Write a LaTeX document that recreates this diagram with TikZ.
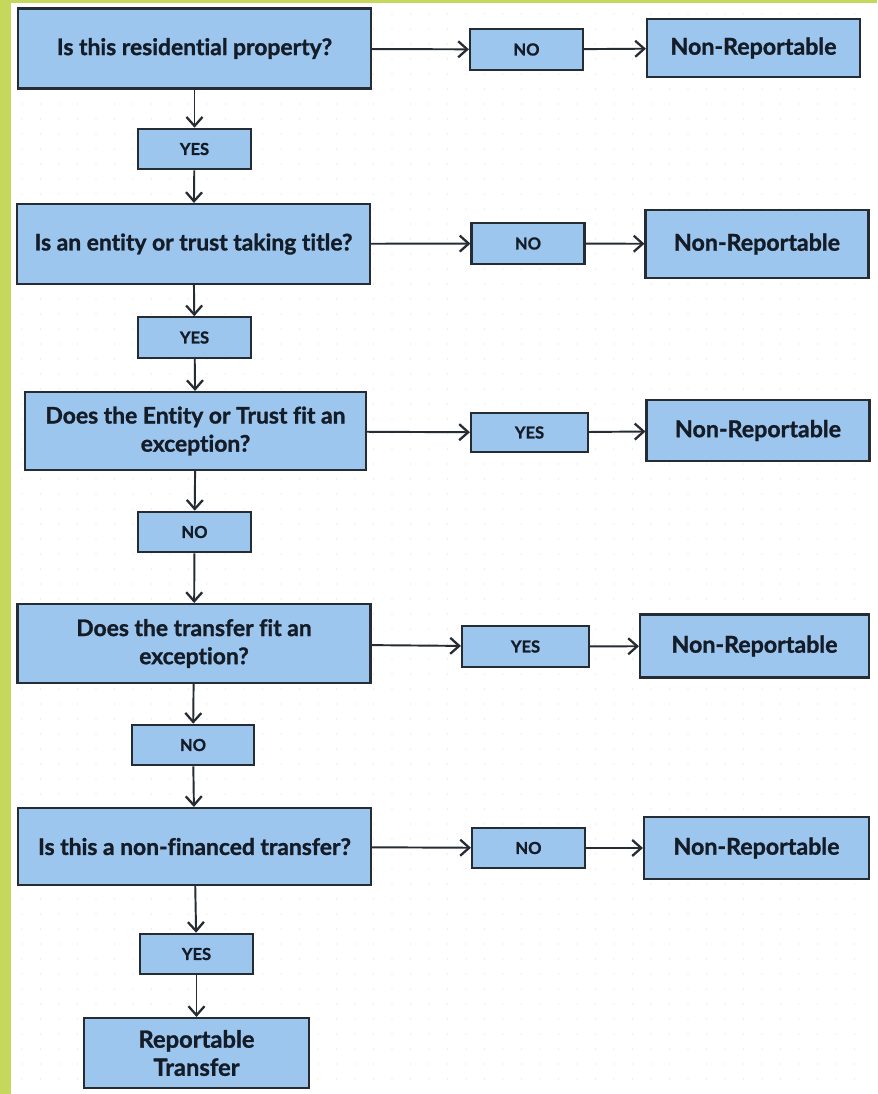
\documentclass[tikz,border=0pt]{standalone}
\usepackage{fontspec}
\setmainfont{Lato}[Ligatures=NoCommon,BoldFeatures={FakeBold=1.2}]
\usetikzlibrary{arrows.meta}
\definecolor{cbox}{RGB}{157,198,238}
\definecolor{cedge}{RGB}{38,44,52}
\definecolor{ctext}{RGB}{20,28,40}
\definecolor{cstrip}{RGB}{198,216,92}
\tikzset{
  flow/.style={x=0.2mm,y=-0.2mm,>={Straight Barb[length=1.8mm,width=3.2mm,line width=1.3pt]}},
  qbox/.style={draw=cedge,fill=cbox,line width=1.2pt,text=ctext,align=center,
    font=\fontsize{13}{16}\selectfont\bfseries,minimum width=70.6mm,minimum height=16mm},
  ansbox/.style={draw=cedge,fill=cbox,line width=1.2pt,text=ctext,
    font=\fontsize{9.4}{11}\selectfont\bfseries,minimum width=22.6mm,minimum height=8.1mm},
  endbox/.style={draw=cedge,fill=cbox,line width=1.2pt,text=ctext,align=center,
    font=\fontsize{13.2}{16}\selectfont\bfseries,minimum width=44.6mm,minimum height=12.6mm},
  link/.style={->,draw=cedge,line width=1.1pt}
}

\begin{document}
\begin{tikzpicture}[flow]
    \useasboundingbox (0,0) rectangle (877,1094);
    % page, strip and dot grid
    \fill[white] (0,0) rectangle (877,1094);
    \fill[cstrip] (0,0) rectangle (11,1094);
    \fill[cstrip] (0,0) rectangle (877,3);
    \foreach \gx in {22,40.5,...,870}
      \foreach \gy in {14,29,...,1090}
        \fill[black!13] (\gx,\gy) circle (0.35pt);

    % questions
    \node[qbox] (q1) at (194.5,48.5) {Is this residential property?};
    \node[qbox] (q2) at (193.5,244) {Is an entity or trust taking title?};
    \node[qbox,minimum width=68.2mm,minimum height=15.6mm] (q3) at (195.5,431)
      {Does the Entity or Trust fit an\\exception?};
    \node[qbox,minimum height=15.8mm] (q4) at (194,643.5) {Does the transfer fit an\\exception?};
    \node[qbox,minimum height=15.4mm] (q5) at (194.5,846.5) {Is this a non-financed transfer?};

    % answers down the left
    \node[ansbox] (a1) at (194.5,149) {YES};
    \node[ansbox] (a2) at (194.5,337.5) {YES};
    \node[ansbox] (a3) at (194.5,532) {NO};
    \node[ansbox,minimum width=24.4mm] (a4) at (193,745) {NO};
    \node[ansbox] (a5) at (196.5,954) {YES};

    % answers to the right
    \node[ansbox] (b1) at (526.5,49.5) {NO};
    \node[ansbox] (b2) at (528,243.5) {NO};
    \node[ansbox,minimum width=23.4mm,minimum height=7.8mm] (b3) at (529.5,432.5) {YES};
    \node[ansbox,minimum width=25.4mm] (b4) at (525.5,646.5) {YES};
    \node[ansbox] (b5) at (528.5,848) {NO};

    % outcomes
    \node[endbox,minimum width=42.6mm,minimum height=11.6mm] (r1) at (753.5,48) {Non-Reportable};
    \node[endbox,minimum height=13.6mm] (r2) at (757,244) {Non-Reportable};
    \node[endbox,minimum height=12.2mm] (r3) at (758,430.5) {Non-Reportable};
    \node[endbox,minimum width=45.8mm] (r4) at (754.5,646) {Non-Reportable};
    \node[endbox,minimum width=45mm,minimum height=12.4mm] (r5) at (756.5,848) {Non-Reportable};
    \node[endbox,minimum width=45mm,minimum height=14mm,font=\fontsize{13.5}{16}\selectfont\bfseries]
      (rep) at (196.5,1053) {Reportable\\Transfer};

    \draw[link] (q1) -- (a1);
    \draw[link] (a1) -- (q2);
    \draw[link] (q2) -- (a2);
    \draw[link] (a2) -- (q3);
    \draw[link] (q3) -- (a3);
    \draw[link] (a3) -- (q4);
    \draw[link] (q4) -- (a4);
    \draw[link] (a4) -- (q5);
    \draw[link] (q5) -- (a5);
    \draw[link] (a5) -- (rep);
    \foreach \i in {1,...,5} {
      \draw[link] (q\i) -- (b\i);
      \draw[link] (b\i) -- (r\i);
    }
\end{tikzpicture}
\end{document}
